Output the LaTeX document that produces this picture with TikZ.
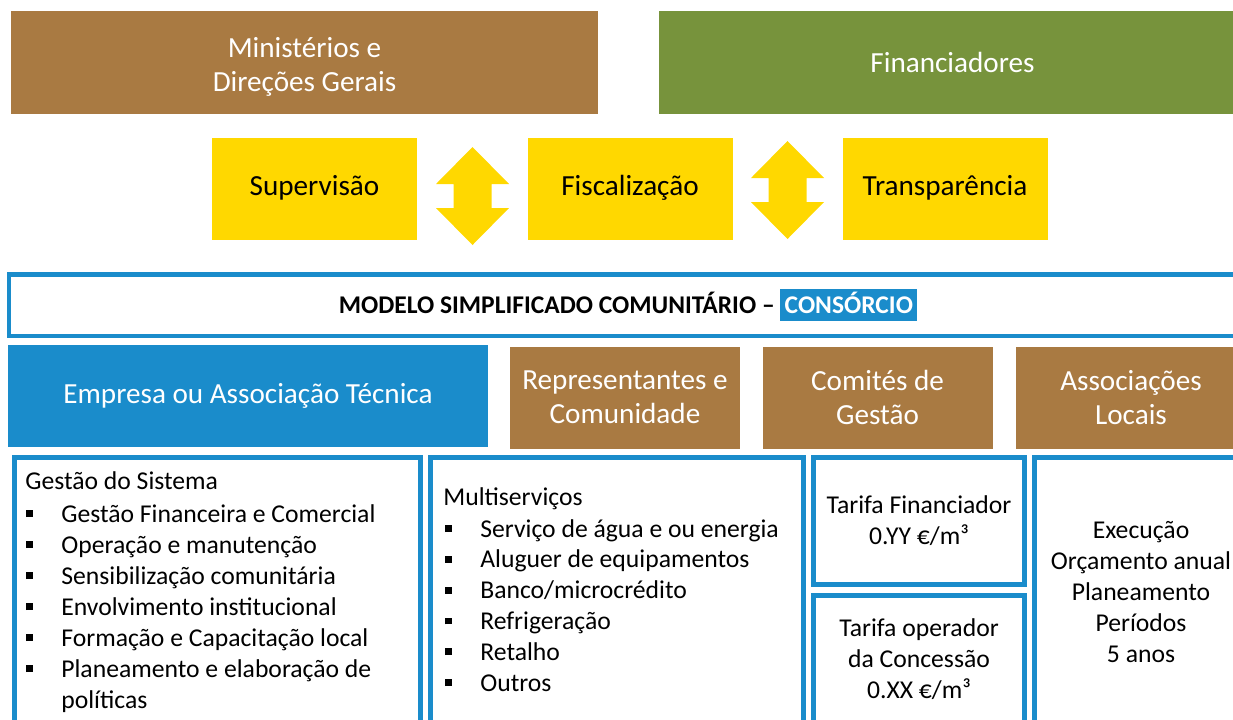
\documentclass[tikz,border=0pt]{standalone}
\usepackage{fontspec}
\setmainfont{Carlito}
\usepackage{tikz}
\usetikzlibrary{positioning}
\definecolor{mbrown}{HTML}{A97A42}
\definecolor{mgreen}{HTML}{77933C}
\definecolor{myellow}{HTML}{FFD800}
\definecolor{mblue}{HTML}{1A8CCB}
\newcommand{\sqbullet}{\makebox[7mm][l]{\rule[1mm]{1.35mm}{1.35mm}}}
\newcommand{\hilite}[1]{{\setlength{\fboxsep}{0pt}\colorbox{mblue}{\textcolor{white}{\rule[-0.3em]{0pt}{1.25em}\,#1\,}}}}

\begin{document}
\begin{tikzpicture}[
    x=0.2mm, y=-0.2mm,
    every node/.style={inner sep=0pt},
    bigfont/.style={font=\fontsize{16.6}{19.4}\selectfont},
    bodyfont/.style={font=\fontsize{14.6}{17.6}\selectfont},
    topbox/.style={rectangle, bigfont, text=white, align=center, minimum width=117.4mm, minimum height=20.6mm},
    yellowbox/.style={rectangle, bigfont, fill=myellow, text height=11.5pt, text depth=3.8pt,
        minimum width=41mm, minimum height=20.4mm},
    rolebox/.style={rectangle, bigfont, fill=mbrown, text=white, align=center, minimum width=46mm, minimum height=20.4mm},
    outbox/.style={rectangle, draw=mblue, line width=1mm, fill=white},
    listline/.style={bodyfont, anchor=base west},
]
\useasboundingbox (0,0) rectangle (1233,719);
\clip (0,0) rectangle (1233,719);
% top actors
\node[topbox, fill=mbrown] (minist) at (304.5,62.5) {\rule{0pt}{0.98em}Ministérios e\\Direções Gerais};
\node[topbox, fill=mgreen] (financ) at (952.5,62.5) {Financiadores};
% control functions
\node[yellowbox] (superv) at (314.5,189) {Supervisão};
\node[yellowbox] (fiscal) at (630,188.5) {Fiscalização};
\node[yellowbox] (transp) at (945,189) {Transparência};
\foreach \cx/\cy in {472.5/196, 787.5/190}
    \fill[myellow] (\cx,\cy) ++(0,-49) -- ++(36.5,37) -- ++(-17.5,0) -- ++(0,24) -- ++(17.5,0)
        -- ++(-36.5,37) -- ++(-36.5,-37) -- ++(17.5,0) -- ++(0,-24) -- ++(-17.5,0) -- cycle;
% model title
\node[rectangle, draw=mblue, line width=0.9mm, fill=white, minimum width=247.5mm, minimum height=12.3mm,
    font=\fontsize{14.5}{17.6}\selectfont\bfseries] (modelo) at (628,305)
    {MODELO SIMPLIFICADO COMUNITÁRIO – \hilite{CONSÓRCIO}};
% consortium members
\node[rolebox, fill=mblue, minimum width=96mm] (empresa) at (248,396) {Empresa ou Associação Técnica};
\node[rolebox] (repres) at (625,397.5) {Representantes e\\Comunidade};
\node[rolebox] (comites) at (877.5,397.5) {Comités de\\Gestão};
\node[rolebox] (assoc) at (1131,397.5) {Associações\\Locais};
% detail boxes
\node[outbox, minimum width=81.2mm, minimum height=56.5mm] (gestbox) at (217.5,598.75) {};
\node[outbox, minimum width=74.6mm, minimum height=56.5mm] (multbox) at (617,598.75) {};
\node[outbox, minimum width=42.2mm, minimum height=25.4mm, bodyfont, align=center] (tarfin) at (919,521)
    {Tarifa Financiador\\0.YY €/m³};
\node[outbox, minimum width=42.2mm, minimum height=28.9mm] (taropbox) at (919,667.75) {};
\node[outbox, minimum width=45.1mm, minimum height=56.5mm] (execbox) at (1147.25,598.75) {};
\node[bodyfont, align=center] (tarop) at (919,659) {Tarifa operador\\da Concessão\\0.XX €/m³};
\node[bodyfont, align=center] (exec) at (1141,592) {Execução\\Orçamento anual\\Planeamento\\Períodos\\5 anos};
% lists
\node[listline] (gesthead) at (25,489) {Gestão do Sistema};
\foreach \t [count=\i] in {Gestão Financeira e Comercial, Operação e manutenção, Sensibilização comunitária,
    Envolvimento institucional, Formação e Capacitação local, Planeamento e elaboração de}
    \node[listline] (gest\i) at (26,{491+31*\i}) {\sqbullet\t};
\node[listline] (gest7) at (61,708) {políticas};
\node[listline] (multhead) at (443,505) {Multiserviços};
\foreach \t [count=\i] in {Serviço de água e ou energia, Aluguer de equipamentos, Banco/microcrédito,
    Refrigeração, Retalho, Outros}
    \node[listline] (mult\i) at (445,{506.2+30.8*\i}) {\sqbullet\t};
\end{tikzpicture}
\end{document}
